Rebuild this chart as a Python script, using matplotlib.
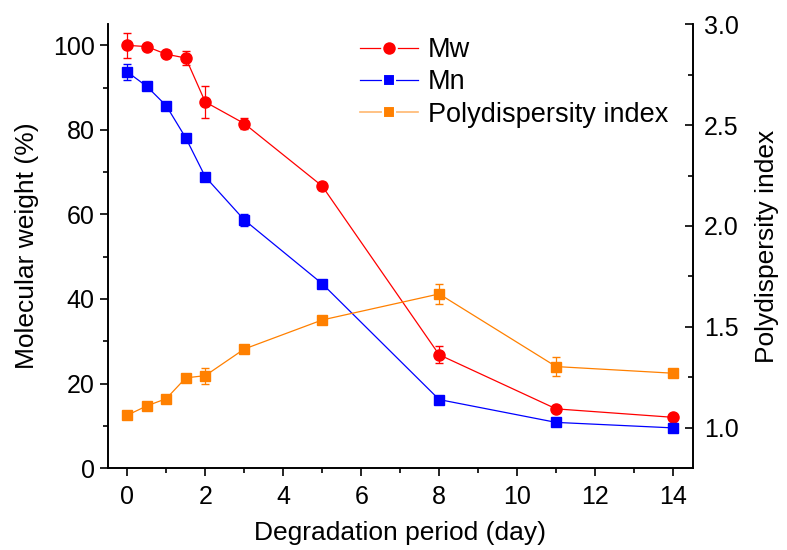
import matplotlib
matplotlib.use("Agg")
import matplotlib.pyplot as plt
from matplotlib.lines import Line2D
from matplotlib.ticker import MultipleLocator

plt.rcParams['font.family'] = ['Liberation Sans', 'DejaVu Sans']

# ── data ─────────────────────────────────────────────────────────────────────
days = [0, 0.5, 1, 1.5, 2, 3, 5, 8, 11, 14]

mw     = [100.0, 99.7, 97.9, 97.0, 86.6, 81.5, 66.7, 26.8, 14.0, 12.0]
mw_err = [3.0, 0.6, 0.6, 1.6, 3.8, 1.3, 1.0, 2.0, 0.6, 0.5]

mn     = [93.7, 90.3, 85.7, 78.1, 68.9, 58.7, 43.6, 16.2, 10.8, 9.5]
mn_err = [1.8, 0.6, 0.5, 0.5, 0.5, 1.5, 0.6, 0.4, 0.4, 0.4]

pdi     = [1.062, 1.108, 1.144, 1.247, 1.258, 1.390, 1.534, 1.663, 1.303, 1.270]
pdi_err = [0.010, 0.010, 0.010, 0.012, 0.040, 0.010, 0.010, 0.049, 0.045, 0.012]

labels = ['Mw', 'Mn', 'Polydispersity index']

RED, BLUE, ORANGE = "#ff0000", "#0000ff", "#ff8000"

fig = plt.figure(figsize=(7.87, 5.5), dpi=100)
ax = fig.add_axes([0.137, 0.149, 0.743, 0.807])
ax2 = ax.twinx()

ax.errorbar(days, mw, yerr=mw_err, color=RED, marker='o', ms=8, lw=0.9,
            elinewidth=0.9, capsize=3, zorder=3)
ax.errorbar(days, mn, yerr=mn_err, color=BLUE, marker='s', ms=7, lw=0.9,
            elinewidth=0.9, capsize=3, zorder=3)
ax2.errorbar(days, pdi, yerr=pdi_err, color=ORANGE, marker='s', ms=7, lw=0.9,
             elinewidth=0.9, capsize=3, zorder=3)

ax.set_xlim(-0.5, 14.5)
ax.set_ylim(0, 105)
ax2.set_ylim(0.8, 3.0)

ax.xaxis.set_major_locator(MultipleLocator(2))
ax.xaxis.set_minor_locator(MultipleLocator(1))
ax.yaxis.set_major_locator(MultipleLocator(20))
ax.yaxis.set_minor_locator(MultipleLocator(10))
ax2.yaxis.set_major_locator(MultipleLocator(0.5))
ax2.yaxis.set_minor_locator(MultipleLocator(0.25))
ax2.yaxis.set_major_formatter(plt.FormatStrFormatter('%.1f'))

for a in (ax, ax2):
    a.spines['top'].set_visible(False)
    for s in a.spines.values():
        s.set_linewidth(1.2)

ax.tick_params(axis='both', which='major', direction='out', length=6, width=1.2,
               labelsize=18, right=False)
ax.tick_params(axis='x', which='major', pad=6)
ax.tick_params(axis='both', which='minor', direction='out', length=3.5, width=1.2,
               right=False)
ax2.tick_params(axis='y', which='major', direction='in', length=6, width=1.2,
                labelsize=18, pad=8)
ax2.tick_params(axis='y', which='minor', direction='in', length=3.5, width=1.2)

ax.set_xlabel("Degradation period (day)", fontsize=19, labelpad=9)
ax.set_ylabel("Molecular weight (%)", fontsize=19, labelpad=10)
ax2.set_ylabel("Polydispersity index", fontsize=19, labelpad=12)

# legend: line - marker - line, no error bars
handles = [
    Line2D([], [], color=RED, lw=0.9, marker='o', ms=10.5, mec='white', mew=1.5),
    Line2D([], [], color=BLUE, lw=0.9, marker='s', ms=9, mec='white', mew=1.5),
    Line2D([], [], color="#ffb870", lw=1.2, marker='s', mfc=ORANGE, ms=9,
           mec='white', mew=1.5),
]
ax.legend(handles, labels, loc='upper left', bbox_to_anchor=(0.413, 0.995),
          frameon=False, fontsize=19.5, handlelength=2.15, handletextpad=0.35,
          labelspacing=0.23, borderaxespad=0)

fig.savefig("out.png", dpi=100)
